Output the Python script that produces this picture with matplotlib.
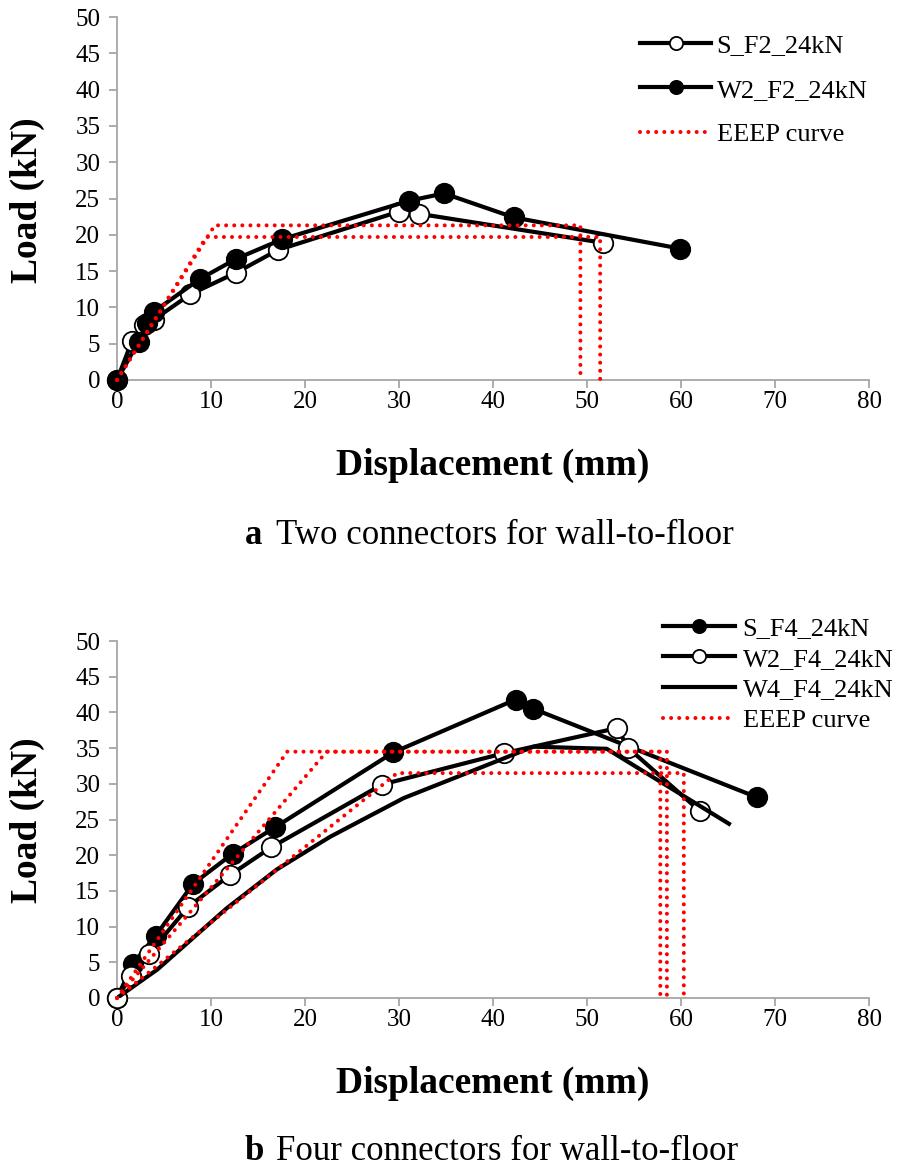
import numpy as np
import matplotlib
matplotlib.use('agg')
import matplotlib.pyplot as plt
from matplotlib import rcParams

rcParams['font.family'] = ['Liberation Serif', 'DejaVu Serif']

# (a) two connectors
s_f2_x = [0, 1.6, 2.9, 3.9, 7.8, 12.7, 17.1, 30.0, 32.1, 51.7]
s_f2_y = [0, 5.4, 7.6, 8.3, 11.8, 14.8, 17.9, 23.2, 22.9, 18.9]
w2_f2_x = [0, 2.3, 3.2, 3.9, 8.8, 12.7, 17.6, 31.1, 34.8, 42.2, 59.9]
w2_f2_y = [0, 5.3, 7.8, 9.4, 13.9, 16.7, 19.4, 24.7, 25.7, 22.4, 18.1]
eeep_a1_x = [0, 10.4, 49.3, 49.3]
eeep_a1_y = [0, 21.3, 21.3, 0]
eeep_a2_x = [0, 9.5, 51.4, 51.4]
eeep_a2_y = [0, 19.7, 19.7, 0]

# (b) four connectors
s_f4_x = [0, 1.7, 4.1, 8.1, 12.3, 16.8, 29.4, 42.4, 44.3, 68.1]
s_f4_y = [0, 4.8, 8.7, 16.0, 20.2, 23.9, 34.4, 41.8, 40.5, 28.1]
w2_f4_x = [0, 1.5, 3.4, 7.6, 12.0, 16.4, 28.2, 41.2, 53.2, 54.4, 62.0]
w2_f4_y = [0, 3.1, 6.2, 12.8, 17.2, 21.1, 29.9, 34.3, 37.8, 35.0, 26.2]
w4_f4_x = [0, 4.3, 11.7, 17.0, 22.7, 30.5, 44.3, 52.1, 65.1]
w4_f4_y = [0, 4.0, 12.6, 18.0, 22.6, 28.0, 35.2, 34.9, 24.4]
eeep_b1_x = [0, 18.1, 57.8, 57.8]
eeep_b1_y = [0, 34.5, 34.5, 0]
eeep_b2_x = [0, 22.3, 58.5, 58.5]
eeep_b2_y = [0, 34.5, 34.5, 0]
eeep_b3_x = [0, 29.8, 60.3, 60.3]
eeep_b3_y = [0, 31.5, 31.5, 0]

xticks = np.arange(0, 81, 10)
yticks = np.arange(0, 51, 5)

W, H = 898, 1174
GREY = '#a6a6a6'
DOT = (0, (0.01, 2.0))


def style_axes(ax):
    ax.set_xlim(0, 80)
    ax.set_ylim(0, 50)
    ax.set_xticks(xticks)
    ax.set_yticks(yticks)
    for s in ['top', 'right']:
        ax.spines[s].set_visible(False)
    for s in ['left', 'bottom']:
        ax.spines[s].set_color(GREY)
        ax.spines[s].set_linewidth(1.3)
    ax.tick_params(direction='out', length=6, width=1.3, color=GREY,
                   labelsize=18, labelcolor='black')
    ax.tick_params(axis='x', pad=2)
    ax.tick_params(axis='y', pad=6)


def eeep(ax, x, y, label=None):
    ax.plot(x, y, color='red', lw=2.9, linestyle=DOT, dash_capstyle='round',
            zorder=5, clip_on=False, label=label)


def curve(ax, x, y, marker, face, label):
    ax.plot(x, y, color='black', lw=3, marker=marker, markersize=14,
            markerfacecolor=face, markeredgecolor='black', markeredgewidth=1.3,
            zorder=3, clip_on=False, label=label)


def labels(ylab_y, xlab_y, cap_y, letter, caption):
    fig.text(27 / W, 1 - ylab_y / H, 'Load (kN)', fontsize=27, fontweight='bold',
             rotation=90, ha='center', va='center')
    fig.text(493 / W, 1 - xlab_y / H, 'Displacement (mm)', fontsize=27,
             fontweight='bold', ha='center', va='center')
    fig.text(245 / W, 1 - cap_y / H, letter, fontsize=25, fontweight='bold',
             ha='left', va='center')
    fig.text(276 / W, 1 - cap_y / H, caption, fontsize=25, ha='left', va='center')


fig = plt.figure(figsize=(W / 100, H / 100), dpi=100)

# top panel
ax1 = fig.add_axes([117 / W, 1 - 380 / H, 752 / W, 363 / H])
curve(ax1, s_f2_x, s_f2_y, 'o', 'white', 'S_F2_24kN')
curve(ax1, w2_f2_x, w2_f2_y, 'o', 'black', 'W2_F2_24kN')
eeep(ax1, eeep_a1_x, eeep_a1_y, 'EEEP curve')
eeep(ax1, eeep_a2_x, eeep_a2_y)
style_axes(ax1)
ax1.legend(loc='upper left', bbox_to_anchor=(0.664, 1.02), frameon=False,
           fontsize=19, handlelength=2.7, handletextpad=0.2,
           labelspacing=0.8, markerscale=0.68)
labels(200, 465, 535, 'a', 'Two connectors for wall-to-floor')

# bottom panel
ax2 = fig.add_axes([117 / W, 1 - 998 / H, 752 / W, 357 / H])
curve(ax2, s_f4_x, s_f4_y, 'o', 'black', 'S_F4_24kN')
curve(ax2, w2_f4_x, w2_f4_y, 'o', 'white', 'W2_F4_24kN')
ax2.plot(w4_f4_x, w4_f4_y, color='black', lw=3, zorder=3, label='W4_F4_24kN')
eeep(ax2, eeep_b1_x, eeep_b1_y, 'EEEP curve')
eeep(ax2, eeep_b2_x, eeep_b2_y)
eeep(ax2, eeep_b3_x, eeep_b3_y)
style_axes(ax2)
ax2.legend(loc='upper left', bbox_to_anchor=(0.695, 1.135), frameon=False,
           fontsize=19, handlelength=2.7, handletextpad=0.3,
           labelspacing=0.27, markerscale=0.68)
labels(820, 1083, 1152, 'b', 'Four connectors for wall-to-floor')

fig.savefig('out.png', dpi=100)
